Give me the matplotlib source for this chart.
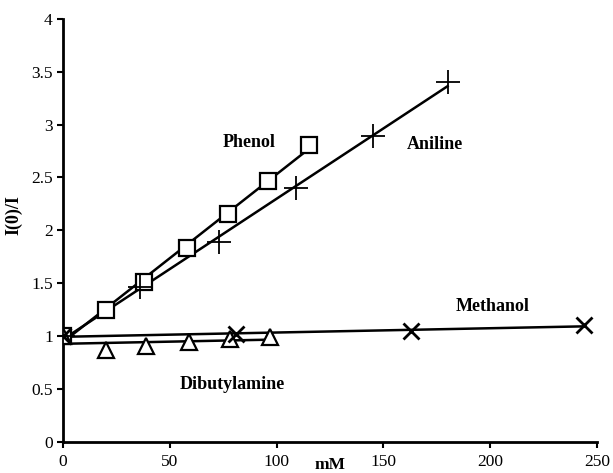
import matplotlib
matplotlib.use("Agg")
import matplotlib.pyplot as plt
import numpy as np

phenol_x = [0, 20, 38, 58, 77, 96, 115]
phenol_y = [1.0, 1.25, 1.51, 1.83, 2.15, 2.47, 2.81]
aniline_x = [0, 36, 73, 109, 145, 180]
aniline_y = [1.0, 1.46, 1.89, 2.40, 2.89, 3.40]
methanol_x = [0, 81, 163, 244]
methanol_y = [1.0, 1.02, 1.05, 1.10]
dibut_x = [0, 20, 39, 59, 78, 97]
dibut_y = [1.0, 0.87, 0.91, 0.94, 0.97, 0.99]

xticks = [0, 50, 100, 150, 200, 250]
yticks = [0, 0.5, 1, 1.5, 2, 2.5, 3, 3.5, 4]
ytick_labels = ["0", "0.5", "1", "1.5", "2", "2.5", "3", "3.5", "4"]

plt.rcParams['font.family'] = ['Liberation Serif', 'DejaVu Serif']

fig = plt.figure(figsize=(6.13, 4.73), dpi=100)
ax = fig.add_axes([0.103, 0.066, 0.871, 0.894])

def fitline(x, y):
    x = np.asarray(x, float); y = np.asarray(y, float)
    k, b = np.polyfit(x, y, 1)
    xs = np.array([x.min(), x.max()])
    ax.plot(xs, k * xs + b, color='black', lw=1.8, zorder=2)

for xs, ys in [(phenol_x, phenol_y), (aniline_x, aniline_y), (methanol_x, methanol_y), (dibut_x, dibut_y)]:
    fitline(xs, ys)

ax.plot(phenol_x, phenol_y, ls='none', marker='s', ms=12, mfc='white', mec='black', mew=1.6, zorder=3)
ax.plot(aniline_x, aniline_y, ls='none', marker='+', ms=17, mec='black', mew=1.3, zorder=4)
ax.plot(methanol_x, methanol_y, ls='none', marker='x', ms=11, mec='black', mew=2.0, zorder=4)
ax.plot(dibut_x, dibut_y, ls='none', marker='^', ms=11, mfc='white', mec='black', mew=1.6, zorder=3)

ax.set_xlim(0, 250)
ax.set_ylim(0, 4)
ax.set_xticks(xticks)
ax.set_yticks(yticks)
ax.set_yticklabels(ytick_labels)
for s in ['top', 'right']:
    ax.spines[s].set_visible(False)
for s in ['left', 'bottom']:
    ax.spines[s].set_linewidth(2)
ax.tick_params(axis='both', direction='out', length=4, width=1.5, labelsize=12.5, colors='black')
ax.tick_params(axis='x', pad=5)

ax.text(87, 2.83, "Phenol", fontsize=13, fontweight='bold', ha='center', va='center')
ax.text(174, 2.81, "Aniline", fontsize=13, fontweight='bold', ha='center', va='center')
ax.text(201, 1.28, "Methanol", fontsize=13, fontweight='bold', ha='center', va='center')
ax.text(79, 0.54, "Dibutylamine", fontsize=13, fontweight='bold', ha='center', va='center')

ax.text(125, -0.215, "mM", fontsize=12.5, fontweight='bold', ha='center', va='center', clip_on=False)
ax.set_ylabel("I(0)/I", fontsize=13, fontweight='bold')
ax.yaxis.set_label_coords(-0.077, 0.537)

fig.savefig("out.png", dpi=100)
